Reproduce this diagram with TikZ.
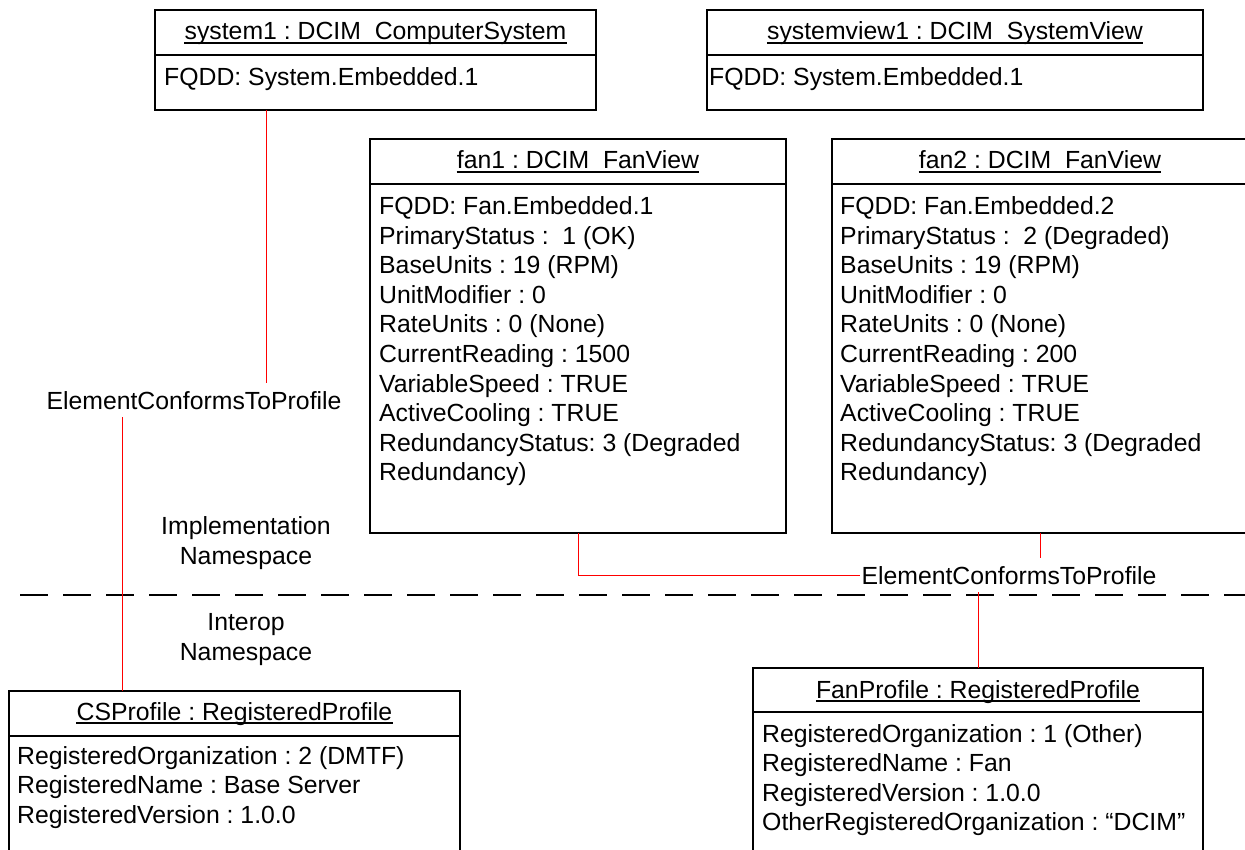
\documentclass[tikz,border=0pt]{standalone}
\usepackage{fontspec}
\setmainfont{Liberation Sans}
\usetikzlibrary{calc}
\frenchspacing
\tikzset{
  umlbox/.style={draw=black, line width=1.6pt, rectangle, anchor=north west, inner sep=0pt, outer sep=0pt},
  txt/.style={font=\fontsize{24.8}{29.5}\selectfont\frenchspacing, inner sep=0pt, text=black},
  attr/.style={txt, anchor=base west},
  hdr/.style={txt, anchor=base},
  underl/.style={line width=1.2pt},
  divider/.style={line width=1.6pt},
  conn/.style={draw=red, line width=1pt},
  assoc/.style={txt, inner xsep=1pt, inner ysep=8pt, anchor=base},
  nslabel/.style={txt, anchor=base},
  nsline/.style={line width=2pt, dash pattern=on 28pt off 15pt},
}
\begin{document}
\begin{tikzpicture}[x=1pt,y=-1pt]
\useasboundingbox (0,0) rectangle (1245,850);
\fill[white] (0,0) rectangle (1245,850);

% system1
\node[umlbox, minimum width=441pt, minimum height=100pt] (sys) at (155,10) {};
\draw[divider] (155,55) -- (596,55);
\node[hdr] (sysH) at (375.5,40) {system1 : DCIM\_ComputerSystem};
\draw[underl] ([yshift=-3pt]sysH.base west) -- ([yshift=-3pt]sysH.base east);
\node[attr] (sysA) at (164,86) {FQDD: System.Embedded.1};

% systemview1
\node[umlbox, minimum width=496pt, minimum height=100pt] (sysv) at (707,10) {};
\draw[divider] (707,55) -- (1203,55);
\node[hdr] (sysvH) at (955,40) {systemview1 : DCIM\_SystemView};
\draw[underl] ([yshift=-3pt]sysvH.base west) -- ([yshift=-3pt]sysvH.base east);
\node[attr] (sysvA) at (709,86) {FQDD: System.Embedded.1};

% fan1
\node[umlbox, minimum width=416pt, minimum height=394pt] (fan1) at (370,139) {};
\draw[divider] (370,184) -- (786,184);
\node[hdr] (fan1H) at (578,169) {fan1 : DCIM\_FanView};
\draw[underl] ([yshift=-3pt]fan1H.base west) -- ([yshift=-3pt]fan1H.base east);
\foreach \t [count=\i from 0] in {FQDD: Fan.Embedded.1, PrimaryStatus :\ \ 1 (OK), BaseUnits : 19 (RPM), UnitModifier : 0, RateUnits : 0 (None), CurrentReading : 1500, VariableSpeed : TRUE, ActiveCooling : TRUE, RedundancyStatus: 3 (Degraded, Redundancy)}
  \node[attr] (fan1A\i) at (379,{215+29.5*\i}) {\t};

% fan2
\node[umlbox, minimum width=416pt, minimum height=394pt] (fan2) at (832,139) {};
\draw[divider] (832,184) -- (1248,184);
\node[hdr] (fan2H) at (1040,169) {fan2 : DCIM\_FanView};
\draw[underl] ([yshift=-3pt]fan2H.base west) -- ([yshift=-3pt]fan2H.base east);
\foreach \t [count=\i from 0] in {FQDD: Fan.Embedded.2, PrimaryStatus :\ \ 2 (Degraded), BaseUnits : 19 (RPM), UnitModifier : 0, RateUnits : 0 (None), CurrentReading : 200, VariableSpeed : TRUE, ActiveCooling : TRUE, RedundancyStatus: 3 (Degraded, Redundancy)}
  \node[attr] (fan2A\i) at (840,{215+29.5*\i}) {\t};

% CSProfile
\node[umlbox, minimum width=451pt, minimum height=200pt] (csp) at (9,691) {};
\draw[divider] (9,736) -- (460,736);
\node[hdr] (cspH) at (234.5,720) {CSProfile : RegisteredProfile};
\draw[underl] ([yshift=-3pt]cspH.base west) -- ([yshift=-3pt]cspH.base east);
\foreach \t [count=\i from 0] in {RegisteredOrganization : 2 (DMTF), RegisteredName : Base Server, RegisteredVersion : 1.0.0}
  \node[attr] (cspA\i) at (17,{764+29.5*\i}) {\t};

% FanProfile
\node[umlbox, minimum width=450pt, minimum height=200pt] (fanp) at (753,668) {};
\draw[divider] (753,712) -- (1203,712);
\node[hdr] (fanpH) at (978,698) {FanProfile : RegisteredProfile};
\draw[underl] ([yshift=-3pt]fanpH.base west) -- ([yshift=-3pt]fanpH.base east);
\foreach \t [count=\i from 0] in {RegisteredOrganization : 1 (Other), RegisteredName : Fan, RegisteredVersion : 1.0.0, OtherRegisteredOrganization : “DCIM”}
  \node[attr] (fanpA\i) at (762,{742+29.5*\i}) {\t};

% namespace labels and separator
\node[nslabel] (impl1) at (246,534) {Implementation};
\node[nslabel] (impl2) at (246,564) {Namespace};
\node[nslabel] (inter1) at (246,630) {Interop};
\node[nslabel] (inter2) at (246,660) {Namespace};
\coordinate (dl) at (20,595);
\coordinate (dr) at (1245,595);
\draw[nsline] (dl) -- (dr);

% associations
\node[assoc] (ecp1) at (194,409) {ElementConformsToProfile};
\node[assoc] (ecp2) at (1009,584) {ElementConformsToProfile};
\coordinate (xA) at (266,0);
\coordinate (xB) at (122,0);
\draw[conn] (sys.south -| xA) -- (ecp1.north -| xA);
\draw[conn] (ecp1.south -| xB) -- (csp.north -| xB);
\draw[conn] (fan1.south) |- (ecp2.west);
\draw[conn] (fan2.south) -- (ecp2.north -| fan2.south);
\draw[conn] (ecp2.south -| fanp.north) -- (fanp.north);
\end{tikzpicture}
\end{document}
